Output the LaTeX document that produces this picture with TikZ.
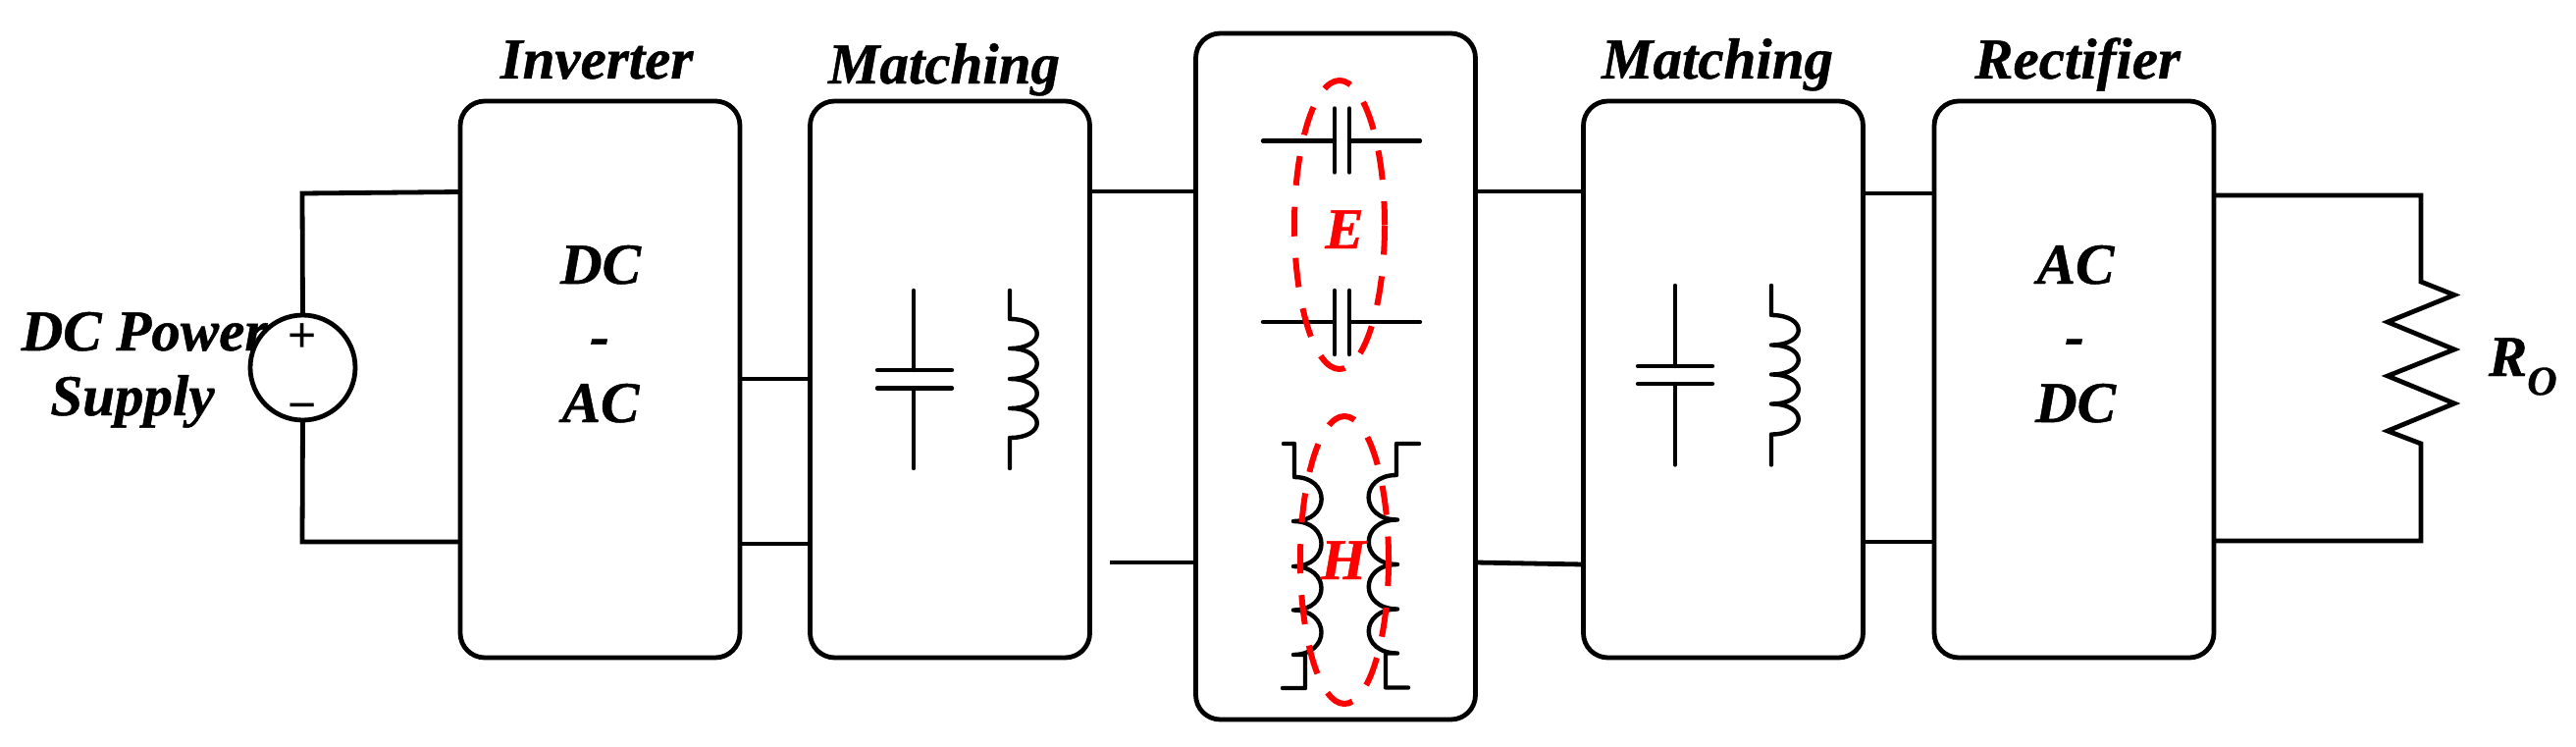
\documentclass[tikz,border=0pt]{standalone}
\usepackage{fontspec}
\setmainfont{Liberation Serif}[BoldItalicFeatures={FakeBold=0.8}]
\newfontfamily\signfont{Liberation Sans}
\usetikzlibrary{shapes.geometric}
\tikzset{
  blockbox/.style={draw,line width=4.8pt,rounded corners=25pt,minimum width=285pt,minimum height=567pt,inner sep=0pt,outer sep=0pt},
  tallbox/.style={blockbox,minimum height=699pt},
  wire/.style={line width=4.8pt,line join=miter},
  thinwire/.style={line width=4.4pt,line cap=round,line join=round},
  lbl/.style={anchor=base,inner sep=0pt,font=\fontsize{59}{60}\selectfont\bfseries\itshape},
  redlbl/.style={lbl,text=red},
  sign/.style={inner sep=0pt,font=\fontsize{50}{50}\selectfont\signfont},
  srcnode/.style={draw,circle,line width=4.8pt,minimum size=107pt,inner sep=0pt,outer sep=0pt},
  field/.style={draw=red,ellipse,line width=6pt,dash pattern=on 30pt off 22pt,dash phase=6pt,inner sep=0pt,outer sep=0pt}
}
\begin{document}
\begin{tikzpicture}[x=1pt,y=-1pt]
\useasboundingbox (0,0) rectangle (2625,760);
\fill[white] (0,0) rectangle (2625,760);
% blocks
\node[blockbox] (inv) at (611.5,386.5) {};
\node[blockbox] (mat1) at (968,386.5) {};
\node[tallbox] (link) at (1361,383.5) {};
\node[blockbox] (mat2) at (1756,386.5) {};
\node[blockbox] (rect) at (2113.5,386.5) {};
\node[srcnode] (src) at (308.5,374.5) {};
% free ends
\coordinate (st) at (308,197);
\coordinate (sb) at (308,552);
\coordinate (rt) at (2467,199);
\coordinate (rb) at (2467,551);
\coordinate (gap) at (1131,573);
\coordinate (stub) at (1896,552);
% connectors
\draw[wire] (src.north) -- (st) -- (inv.west |- 0,195.5);
\draw[wire] (src.south) -- (sb) -- (inv.west |- sb);
\draw[wire] (inv.east |- 0,386) -- (mat1.west |- 0,386);
\draw[wire] (inv.east |- 0,554) -- (mat1.west |- 0,554);
\draw[wire] (mat1.east |- 0,195) -- (link.west |- 0,195);
\draw[wire] (gap) -- (link.west |- gap);
\draw[wire] (link.east |- 0,195) -- (mat2.west |- 0,195);
\draw[wire] (link.east |- 0,573) -- (mat2.west |- 0,575);
\draw[wire] (mat2.east |- 0,197) -- (rect.west |- 0,197);
\draw[wire] (stub) -- (rect.west |- stub);
\draw[wire] (rect.east |- rt) -- (rt) -- (2467,287) -- (2501,300.5) -- (2433,328) -- (2501,356) -- (2433,383) -- (2501,411) -- (2433,439) -- (2467,452) -- (rb) -- (rect.east |- rb);
% matching 1
\draw[thinwire] (931,296) -- (931,377) (894,377) -- (970,377) (894,395.5) -- (970,395.5) (931,395.5) -- (931,477);
\draw[thinwire] (1029,296) -- (1029,325)
  .. controls (1066,325) and (1066,355) .. (1029,355)
  .. controls (1066,355) and (1066,386) .. (1029,386)
  .. controls (1066,386) and (1066,416) .. (1029,416)
  .. controls (1066,416) and (1066,446) .. (1029,446) -- (1029,477);
% matching 2
\draw[thinwire] (1707,291) -- (1707,373) (1669,373) -- (1745,373) (1669,391) -- (1745,391) (1707,391) -- (1707,473.5);
\draw[thinwire] (1805,291) -- (1805,321)
  .. controls (1842,321) and (1842,351.5) .. (1805,351.5)
  .. controls (1842,351.5) and (1842,381.5) .. (1805,381.5)
  .. controls (1842,381.5) and (1842,411.5) .. (1805,411.5)
  .. controls (1842,411.5) and (1842,442.5) .. (1805,442.5) -- (1805,473.5);
% capacitive coupler
\draw[thinwire] (1287,143.5) -- (1360,143.5) (1360,110.5) -- (1360,175.5) (1375,110.5) -- (1375,175.5) (1375,143.5) -- (1447,143.5);
\draw[thinwire] (1287,328) -- (1360,328) (1360,296) -- (1360,361) (1375,296) -- (1375,361) (1375,328) -- (1447,328);
% inductive coupler
\draw[thinwire] (1308,452) -- (1319,452) -- (1319,486)
  .. controls (1356,486) and (1356,531) .. (1318,531)
  .. controls (1356,531) and (1356,577) .. (1318,577)
  .. controls (1356,577) and (1356,621.5) .. (1318,621.5)
  .. controls (1356,621.5) and (1356,667) .. (1318,667) -- (1330,667) -- (1330,701) -- (1307,701);
\draw[thinwire] (1446,452) -- (1423,452) -- (1423,484)
  .. controls (1385,484) and (1385,529.5) .. (1424,529.5)
  .. controls (1385,529.5) and (1385,575) .. (1424,575)
  .. controls (1385,575) and (1385,620.5) .. (1424,620.5)
  .. controls (1385,620.5) and (1385,665.5) .. (1424,665.5) -- (1412,665.5) -- (1412,700.5) -- (1435,700.5);
% field ellipses
\node[field,minimum width=92pt,minimum height=294pt] (efield) at (1365,229) {};
\node[field,minimum width=90pt,minimum height=293pt] (hfield) at (1370,570.5) {};
% labels
\node[lbl] (tinv) at (608,80) {Inverter};
\node[lbl] (tm1) at (962,85) {Matching};
\node[lbl] (tm2) at (1750,80) {Matching};
\node[lbl] (trect) at (2117,80) {Rectifier};
\node[lbl] (tdc1) at (612,289) {DC};
\node[lbl] (td1) at (611,362) {-};
\node[lbl] (tac1) at (612,430) {AC};
\node[lbl] (tac2) at (2115,289) {AC};
\node[lbl] (td2) at (2114,362) {-};
\node[lbl] (tdc2) at (2115,430) {DC};
\node[lbl] (tp1) at (147,357) {DC Power};
\node[lbl] (tp2) at (135,423) {Supply};
\node[lbl] (tro) at (2571,383) {R\textsubscript{\fontsize{42}{42}\selectfont O}};
\node[redlbl] (te) at (1370,253) {E};
\node[redlbl] (th) at (1369,590) {H};
\node[sign] (plus) at (308,344) {+};
\node[sign] (minus) at (308,420) {−};
\end{tikzpicture}
\end{document}
